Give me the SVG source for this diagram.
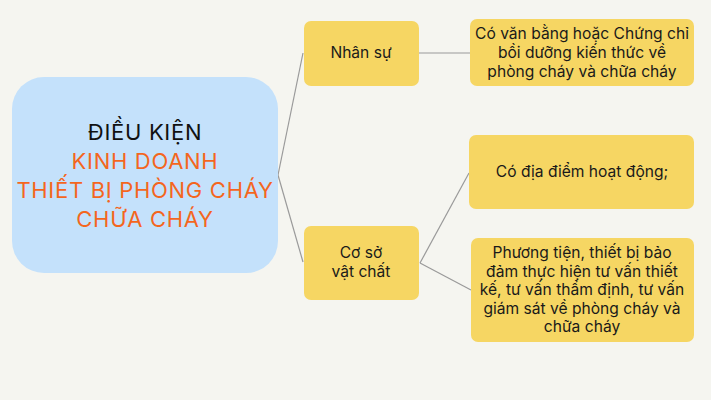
<svg xmlns="http://www.w3.org/2000/svg" width="711" height="400" viewBox="0 0 711 400">
<style>
.bg{fill:#f5f5f0}
.main{fill:#c4e1fb}
.box{fill:#f6d663}
.t{font-family:Inter,"Liberation Sans",sans-serif;font-size:15.6px;fill:#1a1a1a;text-anchor:middle}
.h{font-family:Inter,"Liberation Sans",sans-serif;font-size:22px;letter-spacing:0.7px;text-anchor:middle}
.blk{fill:#111111}
.org{fill:#f4661e}
.c{stroke:#9a9a9a;stroke-width:1.2;fill:none}
</style>
<rect class="bg" x="0" y="0" width="711" height="400"/>
<g id="connectors">
<path class="c" d="M278 175 L303 53"/>
<path class="c" d="M278 175 L303 262"/>
<path class="c" d="M419 53 L470 53"/>
<path class="c" d="M420 263 L469 173"/>
<path class="c" d="M420 263 L471 290"/>
</g>
<g id="main">
<rect class="main" x="12" y="77" width="266" height="196" rx="32"/>
<text class="h blk" x="145" y="140">ĐIỀU KIỆN</text>
<text class="h org" x="145" y="169">KINH DOANH</text>
<text class="h org" x="145" y="198">THIẾT BỊ PHÒNG CHÁY</text>
<text class="h org" x="145" y="227">CHỮA CHÁY</text>
</g>
<g id="nhansu">
<rect class="box" x="304" y="21" width="115" height="65" rx="7"/>
<text class="t" x="361" y="58">Nhân sự</text>
</g>
<g id="coso">
<rect class="box" x="304" y="226" width="115" height="74" rx="7"/>
<text class="t" x="361" y="258">Cơ sở</text>
<text class="t" x="361" y="277">vật chất</text>
</g>
<g id="vanbang">
<rect class="box" x="470" y="19" width="224" height="67" rx="7"/>
<text class="t" x="582" y="39">Có văn bằng hoặc Chứng chỉ</text>
<text class="t" x="582" y="58">bồi dưỡng kiến thức về</text>
<text class="t" x="582" y="77">phòng cháy và chữa cháy</text>
</g>
<g id="diadiem">
<rect class="box" x="469" y="135" width="225" height="74" rx="7"/>
<text class="t" x="582" y="177">Có địa điểm hoạt động;</text>
</g>
<g id="phuongtien">
<rect class="box" x="471" y="238" width="223" height="104" rx="7"/>
<text class="t" x="582" y="258">Phương tiện, thiết bị bảo</text>
<text class="t" x="582" y="276.5">đảm thực hiện tư vấn thiết</text>
<text class="t" x="582" y="295">kế, tư vấn thẩm định, tư vấn</text>
<text class="t" x="582" y="313.5">giám sát về phòng cháy và</text>
<text class="t" x="582" y="332">chữa cháy</text>
</g>
</svg>
